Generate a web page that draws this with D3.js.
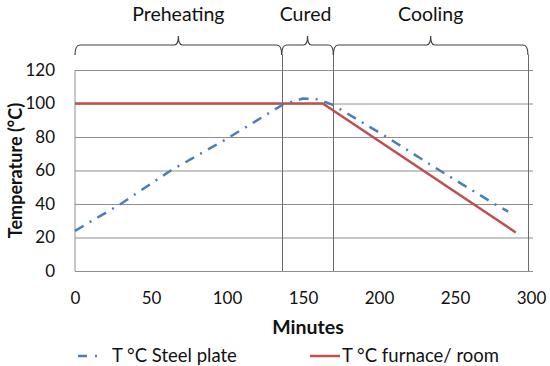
<meta charset="utf-8">
<head>
    <script type="text/javascript" src="https://cdn.jsdelivr.net/npm/d3@7/dist/d3.min.js"></script>
</head>
<body style="margin:0">
    <svg width=550 height=366></svg>
</body>
<script>
    // data
    let steelMinutes = [0, 30, 63, 100, 137, 150, 160, 170, 205, 240, 276, 285];
    let steelTemps = [24, 40, 60, 79, 99.5, 103, 102.5, 99, 80, 60, 40, 35.5];
    let furnaceMinutes = [0, 163, 290];
    let furnaceTemps = [100, 100, 23];
    let phaseNames = ["Preheating", "Cured", "Cooling"];
    let phaseBounds = [0, 136, 170, 298];
    let xTicks = [0, 50, 100, 150, 200, 250, 300];
    let yTicks = [0, 20, 40, 60, 80, 100, 120];
    let seriesNames = ["T °C Steel plate", "T °C furnace/ room"];

    let font = "Lato, 'Open Sans', sans-serif";
    let plotLeft = 75, plotRight = 531, plotTop = 70, plotBottom = 271;

    let x = d3.scaleLinear().domain([0, 300]).range([plotLeft, plotRight]);
    let y = d3.scaleLinear().domain([0, 120]).range([plotBottom, plotTop]);

    let svg = d3.select('svg')
        .attr("font-family", font);

    svg.append("rect").attr("width", 550).attr("height", 366).attr("fill", "#fff");

    // horizontal gridlines + y labels
    let yAxis = d3.axisLeft(y).tickValues(yTicks)
        .tickSize(-(plotRight - plotLeft + 2)).tickPadding(20);
    let gy = svg.append("g")
        .attr("transform", `translate(${plotLeft}, 0)`)
        .call(yAxis);
    gy.select(".domain").remove();
    gy.selectAll(".tick line").attr("stroke", "#8e8e8e");
    gy.selectAll(".tick text")
        .attr("font-size", 17).attr("fill", "#111").attr("font-family", font);

    // left axis line
    svg.append("line")
        .attr("x1", plotLeft).attr("x2", plotLeft)
        .attr("y1", y(120)).attr("y2", y(0))
        .attr("stroke", "#8e8e8e");

    let xAxis = d3.axisBottom(x).tickValues(xTicks).tickSize(0).tickPadding(21);
    let gx = svg.append("g")
        .attr("transform", `translate(0, ${plotBottom})`)
        .call(xAxis);
    gx.select(".domain").remove();
    gx.selectAll(".tick text")
        .attr("font-size", 17).attr("fill", "#111").attr("font-family", font);

    // phase separators
    svg.selectAll(".sep")
        .data(phaseBounds.slice(1))
        .enter()
        .append("line")
        .attr("x1", d => Math.round(x(d)) + 0.5).attr("x2", d => Math.round(x(d)) + 0.5)
        .attr("y1", 55).attr("y2", plotBottom)
        .attr("stroke", "#6a6a6a").attr("stroke-width", 1);

    // curly brackets over the phases
    let by = 45;
    function bracket(a, b) {
        let xa = x(a), xb = x(b), m = (xa + xb) / 2;
        return `M${xa},55 Q${xa},${by} ${xa + 5},${by} L${m - 4},${by} Q${m},${by} ${m},${by - 9}` +
            ` Q${m},${by} ${m + 4},${by} L${xb - 5},${by} Q${xb},${by} ${xb},55`;
    }
    phaseNames.forEach(function (name, i) {
        let a = phaseBounds[i], b = phaseBounds[i + 1];
        svg.append("path")
            .attr("d", bracket(a, b))
            .attr("fill", "none").attr("stroke", "#404040").attr("stroke-width", 1.2);
        svg.append("text")
            .attr("x", (x(a) + x(b)) / 2 + (i == 1 ? -2 : 0))
            .attr("y", 21)
            .attr("text-anchor", "middle")
            .attr("font-size", 19.5).attr("fill", "#111")
            .text(name);
    });

    let line = d3.line().x(d => x(d[0])).y(d => y(d[1]));

    svg.append("path")
        .datum(furnaceMinutes.map((m, i) => [m, furnaceTemps[i]]))
        .attr("d", line)
        .attr("fill", "none").attr("stroke", "#c0504d").attr("stroke-width", 2.5);

    svg.append("path")
        .datum(steelMinutes.map((m, i) => [m, steelTemps[i]]))
        .attr("d", line)
        .attr("fill", "none").attr("stroke", "#4a7ebb").attr("stroke-width", 2.5)
        .attr("stroke-dasharray", "10,7,2,7");

    // axis titles
    svg.append("text")
        .attr("x", (plotLeft + plotRight) / 2 + 5).attr("y", 334)
        .attr("text-anchor", "middle")
        .attr("font-size", 19.5).attr("font-weight", "bold").attr("fill", "#111")
        .text("Minutes");

    svg.append("text")
        .attr("transform", `translate(21.5, ${(plotTop + plotBottom) / 2}) rotate(-90)`)
        .attr("text-anchor", "middle")
        .attr("font-size", 18).attr("font-weight", "bold").attr("fill", "#111")
        .text("Temperature (°C)");

    // legend
    let ly = 356;
    svg.append("line")
        .attr("x1", 78).attr("x2", 100).attr("y1", ly).attr("y2", ly)
        .attr("stroke", "#4a7ebb").attr("stroke-width", 2.5)
        .attr("stroke-dasharray", "9,8,2,20");
    svg.append("text")
        .attr("x", 112).attr("y", ly + 6)
        .attr("font-size", 18.5).attr("fill", "#111")
        .text(seriesNames[0]);
    svg.append("line")
        .attr("x1", 310).attr("x2", 340).attr("y1", ly).attr("y2", ly)
        .attr("stroke", "#c0504d").attr("stroke-width", 2.5);
    svg.append("text")
        .attr("x", 342).attr("y", ly + 6)
        .attr("font-size", 18.5).attr("fill", "#111")
        .text(seriesNames[1]);
</script>
